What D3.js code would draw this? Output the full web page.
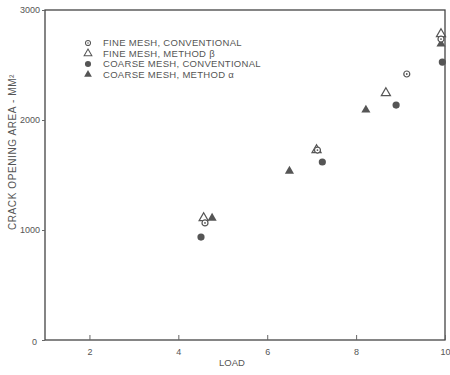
<!DOCTYPE html>
<html>
<head>
<meta charset="utf-8">
<script src="https://cdn.jsdelivr.net/npm/d3@7"></script>
<style>
  body { margin: 0; background: #fff; }
  text { font-family: "Liberation Sans", Arial, sans-serif; fill: #555; }
</style>
</head>
<body>
<svg width="450" height="375"></svg>
<script>
// data
var seriesNames = ["FINE MESH, CONVENTIONAL", "FINE MESH, METHOD \u03B2", "COARSE MESH, CONVENTIONAL", "COARSE MESH, METHOD \u03B1"];
var fineConvLoad = [4.60, 7.13, 9.14, 9.91];
var fineConvArea = [1064, 1727, 2418, 2736];
var fineMethLoad = [4.57, 7.11, 8.67, 9.91];
var fineMethArea = [1109, 1727, 2245, 2782];
var coarseConvLoad = [4.51, 7.24, 8.90, 9.94];
var coarseConvArea = [936, 1618, 2136, 2527];
var coarseMethLoad = [4.76, 6.50, 8.22, 9.91];
var coarseMethArea = [1109, 1536, 2091, 2691];
var xTicks = [2, 4, 6, 8, 10];
var yTicks = [0, 1000, 2000, 3000];

var svg = d3.select("svg");
// (top is taken by window.top, so use other names)
var plotL = 45, plotR = 445, plotT = 10, plotB = 340;

var x = d3.scaleLinear().domain([1, 10]).range([plotL, plotR]);
var y = d3.scaleLinear().domain([0, 3000]).range([plotB, plotT]);

//frame
svg.append("rect")
  .attr("x", plotL).attr("y", plotT)
  .attr("width", plotR - plotL).attr("height", plotB - plotT)
  .attr("fill", "none").attr("stroke", "#444").attr("stroke-width", 1.3);

//x axis, ticks pointing up
var xAxis = d3.axisBottom(x).tickValues(xTicks).tickSizeInner(-5).tickSizeOuter(0).tickPadding(9);
var gx = svg.append("g").attr("transform", "translate(0," + plotB + ")").call(xAxis);
gx.select(".domain").remove();
gx.selectAll("line").attr("stroke", "#666");
gx.selectAll("text").attr("font-size", 9).style("fill", "#555");

//y axis
var yAxis = d3.axisLeft(y).tickValues(yTicks).tickFormat(d3.format("d"))
  .tickSizeInner(3).tickSizeOuter(0).tickPadding(2);
var gy = svg.append("g").attr("transform", "translate(" + plotL + ",0)").call(yAxis);
gy.select(".domain").remove();
gy.selectAll("line").attr("stroke", "#666");
gy.selectAll("text").attr("font-size", 9).style("fill", "#555");
gy.selectAll(".tick").filter(function(d) { return d == 0; }).select("text").attr("dx", -3).attr("dy", "0.5em");

//axis titles
svg.append("text")
  .attr("x", 232).attr("y", 366)
  .attr("text-anchor", "middle").attr("font-size", 9.5)
  .text("LOAD");

svg.append("text")
  .attr("transform", "translate(16,152) rotate(-90)")
  .attr("text-anchor", "middle").attr("font-size", 10)
  .attr("letter-spacing", 0.6)
  .text("CRACK OPENING  AREA - MM\u00B2");

var col = "#555";
var triSym = d3.symbol().type(d3.symbolTriangle).size(36);

function toPts(xs, ys) {
  return xs.map(function(v, i) { return { load: v, area: ys[i] }; });
}

var pts = svg.append("g");

//open circle with dot
function drawOpenCircle(g) {
  g.append("circle").attr("r", 3).attr("fill", "#fff").attr("stroke", col).attr("stroke-width", 1.2);
  g.append("circle").attr("r", 0.9).attr("fill", col);
}
function drawOpenTri(g) {
  g.append("path").attr("d", triSym).attr("fill", "none").attr("stroke", col).attr("stroke-width", 1.2);
}
function drawFilledCircle(g) {
  g.append("circle").attr("r", 3.6).attr("fill", col);
}
function drawFilledTri(g) {
  g.append("path").attr("d", triSym).attr("fill", col);
}

var series = [
  { data: toPts(coarseMethLoad, coarseMethArea), draw: drawFilledTri },
  { data: toPts(coarseConvLoad, coarseConvArea), draw: drawFilledCircle },
  { data: toPts(fineMethLoad, fineMethArea), draw: drawOpenTri },
  { data: toPts(fineConvLoad, fineConvArea), draw: drawOpenCircle }
];

series.forEach(function(s) {
  var g = pts.append("g").selectAll("g")
    .data(s.data)
    .enter().append("g")
    .attr("transform", function(d) { return "translate(" + x(d.load) + "," + y(d.area) + ")"; });
  s.draw(g);
});

//legend
var legDraw = [drawOpenCircle, drawOpenTri, drawFilledCircle, drawFilledTri];
var legend = svg.append("g").attr("transform", "translate(88,43)")
  .selectAll("g")
  .data(seriesNames)
  .enter().append("g")
  .attr("transform", function(d, i) { return "translate(0," + i * 10.5 + ")"; });

legend.each(function(d, i) {
  var g = d3.select(this).append("g").attr("transform", "scale(0.85)");
  legDraw[i](g);
});

legend.append("text")
  .attr("x", 15).attr("dy", "0.35em")
  .attr("font-size", 9.5)
  .attr("letter-spacing", 0.3)
  .text(function(d) { return d; });
</script>
</body>
</html>
